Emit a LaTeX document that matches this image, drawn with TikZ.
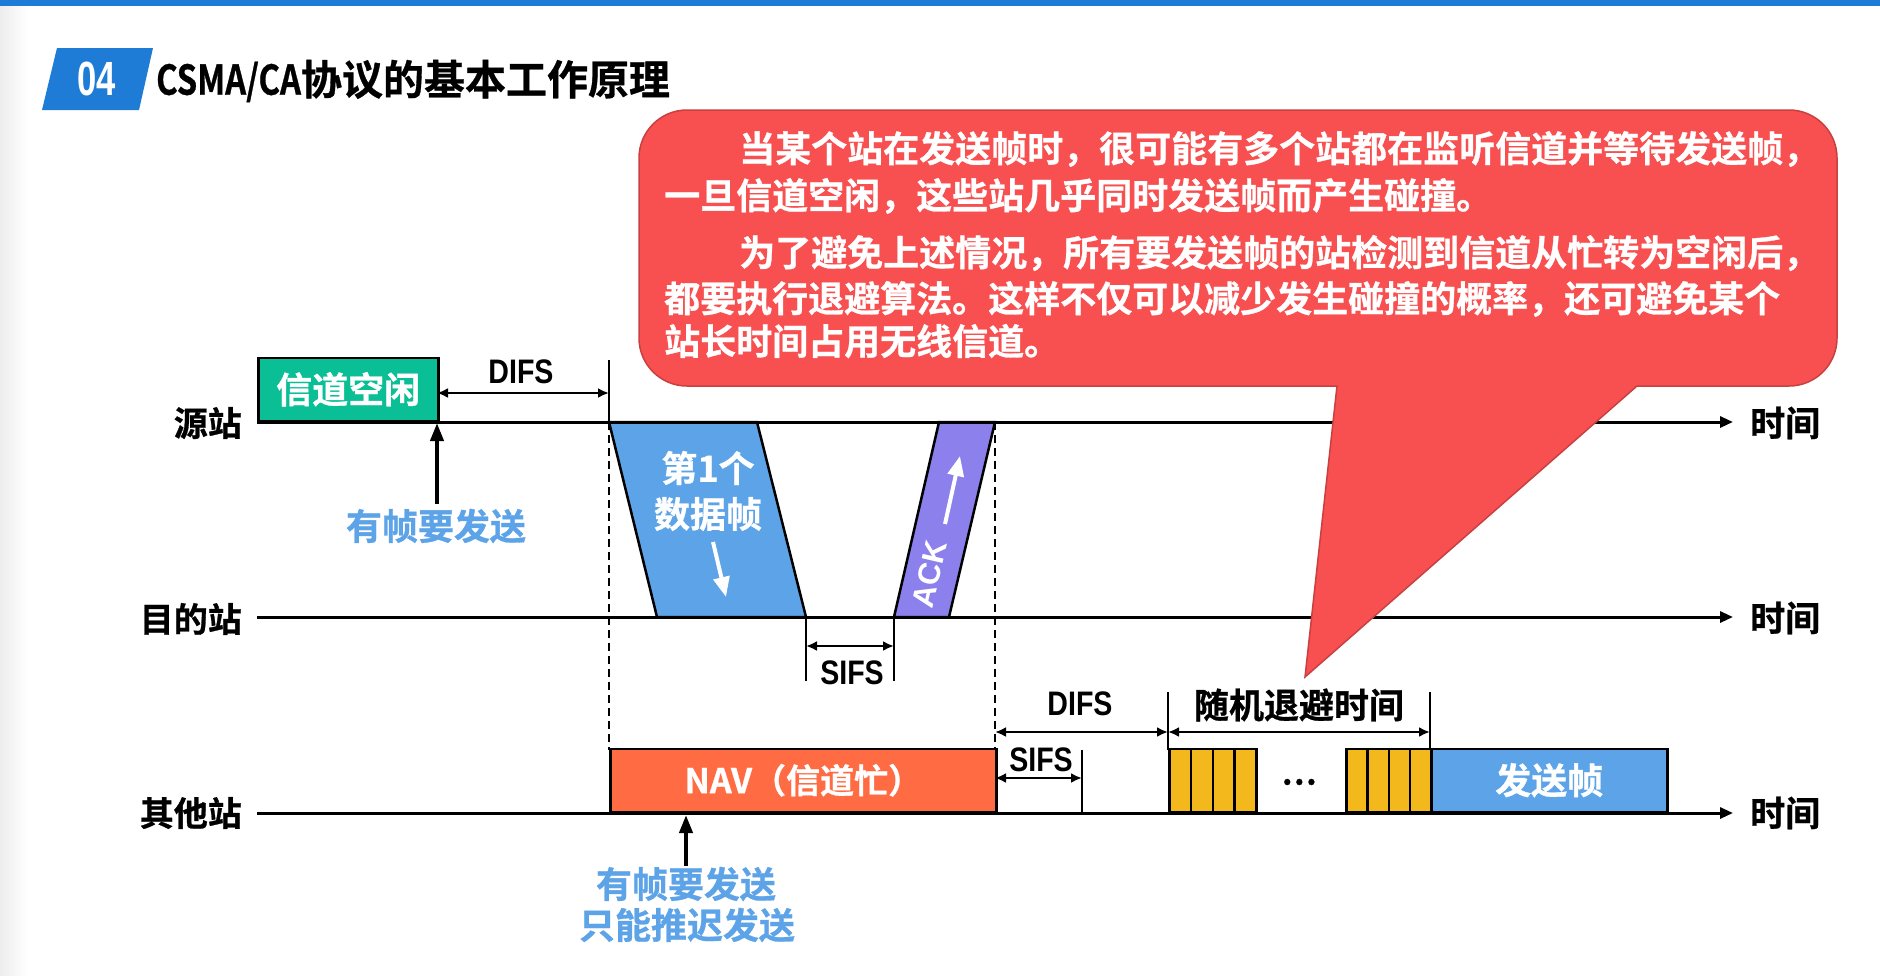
\documentclass[tikz,border=0pt]{standalone}
\usepackage{fontspec}
\usepackage{graphicx}
\usetikzlibrary{arrows.meta}
\setmainfont{Liberation Sans}
\newfontfamily\cjkb{Noto Sans CJK SC Bold}[FakeBold=0.8]
\newfontfamily\latb{Liberation Sans Bold}
\newcommand{\fs}[1]{\fontsize{#1}{#1}\selectfont}
\newcommand{\nar}[1]{\scalebox{0.84}[1]{#1}}
\definecolor{topblue}{HTML}{1E7BD6}
\definecolor{lblue}{HTML}{5CA3E8}
\definecolor{idlegreen}{HTML}{0ABE96}
\definecolor{ackpurple}{HTML}{8C80EC}
\definecolor{navorange}{HTML}{FF6C44}
\definecolor{slotyellow}{HTML}{F2B81C}
\definecolor{callred}{HTML}{F84F50}
\definecolor{callborder}{HTML}{C94040}
\tikzset{
  lbl/.style={font=\cjkb\fs{34}, inner sep=0pt},
  axis/.style={line width=3pt, -{Triangle[length=13pt,width=11pt]}},
  dim/.style={line width=2.5pt, {Latex[length=11pt,width=10pt]}-{Latex[length=11pt,width=10pt]}},
  tick/.style={line width=2.5pt},
  dashline/.style={line width=2pt, dash pattern=on 8pt off 5pt},
  box/.style={draw=black, line width=2.5pt, inner sep=0pt, text=white, font=\cjkb\fs{36}},
  slot/.style={draw=black, line width=2.5pt, fill=slotyellow, minimum width=21.75pt, minimum height=63pt, anchor=south west, inner sep=0pt},
  dimtext/.style={font=\latb\fs{34}, inner sep=0pt},
  bluetext/.style={font=\cjkb\fs{36}, text=lblue, inner sep=0pt},
  calltext/.style={font=\cjkb\fs{36}, text=white, inner sep=0pt, anchor=west},
  warrow/.style={draw=white, line width=4pt, -{Triangle[length=20pt,width=16pt]}},
  barrow/.style={line width=4pt, -{Triangle[length=18pt,width=13pt]}},
}
\begin{document}
\begin{tikzpicture}[x=1pt,y=-1pt]
\useasboundingbox (0,0) rectangle (1880,975);
\fill[white] (0,0) rectangle (1880,975);
\shade[left color=black!7, right color=white] (0,6) rectangle (28,975);
% top bar
\fill[topblue] (0,0) rectangle (1880,6);
% badge and title
\fill[topblue] (57,48) -- (153,48) -- (139,110) -- (42,110) -- cycle;
\node[font=\latb\fs{48}, text=white, inner sep=0pt] (badge) at (97,79) {\scalebox{0.72}[1]{04}};
\node[font=\cjkb\fs{41}, anchor=west, inner sep=0pt] (title) at (156,81) {\scalebox{0.8}[1]{CSMA/CA}协议的基本工作原理};

% timeline coordinates
\coordinate (s0) at (257,422); \coordinate (s1) at (1733,422);
\coordinate (d0) at (257,617); \coordinate (d1) at (1733,617);
\coordinate (o0) at (257,813); \coordinate (o1) at (1733,813);

% left labels
\node[lbl, anchor=east] (lsrc) at (242,423) {源站};
\node[lbl, anchor=east] (ldst) at (242,619) {目的站};
\node[lbl, anchor=east] (loth) at (242,813) {其他站};
% right labels
\node[lbl, anchor=west, font=\cjkb\fs{35}] (tsrc) at (1750,423) {时间};
\node[lbl, anchor=west, font=\cjkb\fs{35}] (tdst) at (1750,618) {时间};
\node[lbl, anchor=west, font=\cjkb\fs{35}] (toth) at (1750,813) {时间};

% idle box
\node[box, fill=idlegreen, minimum width=180pt, minimum height=63pt, anchor=south west] (idle) at (257,422) {信道空闲};

% dashed & solid guide lines
\coordinate (g1t) at (609,360); \coordinate (g1a) at (609,422); \coordinate (g1b) at (609,750);
\coordinate (g2a) at (995,422); \coordinate (g2b) at (995,750);
\draw[tick] (g1t) -- (g1a);
\draw[dashline] (g1a) -- (g1b);
\draw[dashline] (g2a) -- (g2b);

% upper DIFS
\coordinate (difsA) at (437,393); \coordinate (difsB) at (609,393);
\draw[dim] (difsA) -- (difsB);
\node[dimtext] (difs1) at (521,372) {\nar{DIFS}};

% data frame
\coordinate (df1) at (609,422); \coordinate (df2) at (757,422);
\coordinate (df3) at (806,617); \coordinate (df4) at (657,617);
\draw[fill=lblue, line width=2.5pt, line join=miter] (df1) -- (df2) -- (df3) -- (df4) -- cycle;
\node[font=\cjkb\fs{36}, text=white, inner sep=0pt] (df1t) at (708,468) {第1个};
\node[font=\cjkb\fs{36}, text=white, inner sep=0pt] (df2t) at (708,514) {数据帧};
\coordinate (dfa) at (713,542); \coordinate (dfb) at (726,597);
\draw[warrow] (dfa) -- (dfb);

% ACK
\coordinate (ak1) at (939,422); \coordinate (ak2) at (995,422);
\coordinate (ak3) at (949,617); \coordinate (ak4) at (894,617);
\draw[fill=ackpurple, line width=2.5pt] (ak1) -- (ak2) -- (ak3) -- (ak4) -- cycle;
\node[font=\latb\fs{31}, text=white, inner sep=0pt, rotate=77] (ackt) at (930,574) {ACK};
\coordinate (aka) at (945,524); \coordinate (akb) at (960,456);
\draw[warrow] (aka) -- (akb);

% upper SIFS
\coordinate (si1a) at (806,617); \coordinate (si1b) at (806,681);
\coordinate (si2a) at (894,617); \coordinate (si2b) at (894,681);
\draw[tick] (si1a) -- (si1b);
\draw[tick] (si2a) -- (si2b);
\coordinate (sifsA) at (806,646); \coordinate (sifsB) at (894,646);
\draw[dim] (sifsA) -- (sifsB);
\node[dimtext] (sifs1) at (852,673) {\nar{SIFS}};

% NAV
\node[box, fill=navorange, minimum width=386pt, minimum height=63pt, anchor=south west, font=\cjkb\fs{34}] (nav) at (609,813) {NAV（信道忙）};

% lower ticks
\coordinate (t3a) at (1082,750); \coordinate (t3b) at (1082,813);
\draw[tick] (t3a) -- (t3b);
\coordinate (t4a) at (1168,692); \coordinate (t4b) at (1168,750);
\draw[tick] (t4a) -- (t4b);
\coordinate (t5a) at (1430,692); \coordinate (t5b) at (1430,750);
\draw[tick] (t5a) -- (t5b);

% lower DIFS / backoff / SIFS
\coordinate (difs2A) at (995,732); \coordinate (difs2B) at (1168,732);
\draw[dim] (difs2A) -- (difs2B);
\node[dimtext] (difs2) at (1080,704) {\nar{DIFS}};
\coordinate (boA) at (1168,732); \coordinate (boB) at (1430,732);
\draw[dim] (boA) -- (boB);
\node[font=\cjkb\fs{35}, inner sep=0pt] (bot) at (1299,705) {随机退避时间};
\coordinate (sifs2A) at (995,778); \coordinate (sifs2B) at (1082,778);
\draw[dim] (sifs2A) -- (sifs2B);
\node[dimtext] (sifs2) at (1041,760) {\nar{SIFS}};

% slots
\node[slot] (sl1) at (1168,813) {};
\node[slot] (sl2) at (1189.75,813) {};
\node[slot] (sl3) at (1211.5,813) {};
\node[slot] (sl4) at (1233.25,813) {};
\node[font=\cjkb\fs{32}, inner sep=0pt] (dots) at (1299,782) {…};
\node[slot, minimum width=21.25pt] (sl5) at (1345,813) {};
\node[slot, minimum width=21.25pt] (sl6) at (1366.25,813) {};
\node[slot, minimum width=21.25pt] (sl7) at (1387.5,813) {};
\node[slot, minimum width=21.25pt] (sl8) at (1408.75,813) {};
\node[box, fill=lblue, minimum width=236pt, minimum height=63pt, anchor=south west] (send) at (1430,813) {发送帧};

% axes
\draw[axis] (s0) -- (s1);
\draw[axis] (d0) -- (d1);
\draw[axis] (o0) -- (o1);

% source "has frame" arrow
\node[bluetext] (want1) at (436,526) {有帧要发送};
\coordinate (w1a) at (437,504); \coordinate (w1b) at (437,423);
\draw[barrow] (w1a) -- (w1b);

% other-station arrow
\node[bluetext] (want2) at (686,884) {有帧要发送};
\node[bluetext] (want3) at (687,925) {只能推迟发送};
\coordinate (w2a) at (686,866); \coordinate (w2b) at (686,815);
\draw[barrow] (w2a) -- (w2b);

% callout
\draw[fill=callred, draw=callborder, line width=1.5pt]
  (687,110) -- (1789,110) .. controls (1815.5,110) and (1837,131.5) .. (1837,158)
  -- (1837,338) .. controls (1837,364.5) and (1815.5,386) .. (1789,386)
  -- (1637,386) -- (1305,677) -- (1337,386) -- (687,386)
  .. controls (660.5,386) and (639,364.5) .. (639,338)
  -- (639,158) .. controls (639,131.5) and (660.5,110) .. (687,110) -- cycle;
\node[calltext] (c1) at (739,149) {当某个站在发送帧时，很可能有多个站都在监听信道并等待发送帧，};
\node[calltext] (c2) at (664,196) {一旦信道空闲，这些站几乎同时发送帧而产生碰撞。};
\node[calltext] (c3) at (739,253) {为了避免上述情况，所有要发送帧的站检测到信道从忙转为空闲后，};
\node[calltext] (c4) at (664,299) {都要执行退避算法。这样不仅可以减少发生碰撞的概率，还可避免某个};
\node[calltext] (c5) at (664,341) {站长时间占用无线信道。};
\end{tikzpicture}
\end{document}
